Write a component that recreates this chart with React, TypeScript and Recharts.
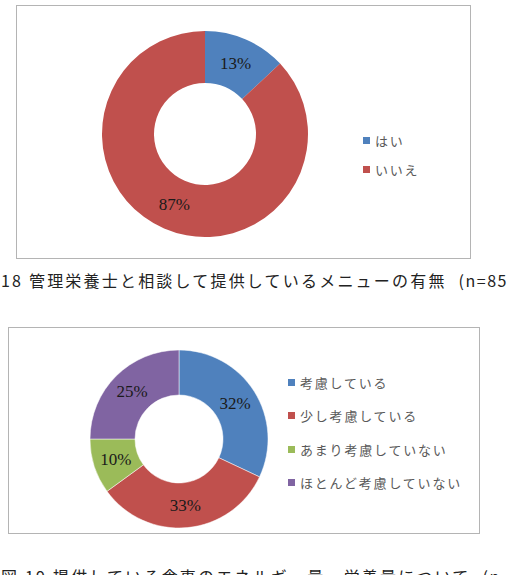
import { PieChart, Pie, Cell, Legend } from "recharts"

const answerLabels = ["はい", "いいえ"]
const answerShares = [13, 87]

const considerLabels = ["考慮している", "少し考慮している", "あまり考慮していない", "ほとんど考慮していない"]
const considerShares = [32, 33, 10, 25]

const sliceColors = ["#4F81BD", "#C0504D", "#9BBB59", "#8064A2"]

const caption1 = "18  管理栄養士と相談して提供しているメニューの有無"
const caption2 = "図 19  提供している食事のエネルギー量・栄養量について"
const nNote = "(n=85)"

const answerData = answerLabels.map((name, i) => ({ name, value: answerShares[i] }))
const considerData = considerLabels.map((name, i) => ({ name, value: considerShares[i] }))

const RAD = Math.PI / 180

function renderLabel(props: any) {
  const { cx, cy, midAngle, innerRadius, outerRadius, value } = props
  const r = (innerRadius + outerRadius) / 2
  const x = cx + r * Math.cos(-midAngle * RAD)
  const y = cy + r * Math.sin(-midAngle * RAD)
  return (
    <text x={x} y={y} textAnchor="middle" dominantBaseline="central" fill="#1a1a1a"
      fontFamily="'Liberation Serif', 'DejaVu Serif', serif" fontSize={17}>
      {`${value}%`}
    </text>
  )
}

// legend rows follow the data order, not recharts' sorted payload
function legendContent(names: string[], rowHeight: number) {
  return () => (
    <div>
      {names.map((name, i) => (
        <div key={name} style={{ height: rowHeight, display: "flex", alignItems: "center" }}>
          <span style={{ width: 7, height: 7, background: sliceColors[i], marginRight: 5, display: "inline-block" }} />
          <span style={{ fontSize: 13, letterSpacing: 1.8, color: "#595959", fontFamily: "'Noto Sans CJK JP', sans-serif" }}>{name}</span>
        </div>
      ))}
    </div>
  )
}

const boxStyle = { position: "absolute" as const, border: "1px solid #b4b4b4", background: "#fff" }
const captionStyle = {
  position: "absolute" as const, left: 1, whiteSpace: "nowrap" as const, fontSize: 16,
  letterSpacing: 2.2, color: "#222", fontFamily: "'Noto Sans CJK JP', sans-serif",
}

export default function App() {
  return (
    <div style={{ position: "absolute", left: 0, top: 0, width: 507, height: 575, overflow: "hidden", background: "#fff" }}>
      <div style={{ ...boxStyle, left: 16, top: 5, width: 453, height: 252 }}>
        <PieChart width={453} height={252}>
          <Pie data={answerData} dataKey="value" nameKey="name" cx={183} cy={123}
            innerRadius={51} outerRadius={103} startAngle={90} endAngle={-270}
            stroke="none" label={renderLabel} labelLine={false} isAnimationActive={false}>
            {answerData.map((d, i) => <Cell key={d.name} fill={sliceColors[i]} />)}
          </Pie>
          <Legend layout="vertical" content={legendContent(answerLabels, 29)}
            wrapperStyle={{ left: 346, top: 120, width: 100, bottom: "auto", right: "auto" }} />
        </PieChart>
      </div>
      <div style={{ ...captionStyle, top: 268 }}>
        {caption1}<span style={{ marginLeft: 12, letterSpacing: 1.5, fontSize: 16 }}>{nNote}</span>
      </div>

      <div style={{ ...boxStyle, left: 8, top: 327, width: 470, height: 205 }}>
        <PieChart width={470} height={205}>
          <Pie data={considerData} dataKey="value" nameKey="name" cx={165} cy={106}
            innerRadius={44} outerRadius={89} startAngle={90} endAngle={-270}
            stroke="#fff" strokeWidth={0.5} label={renderLabel} labelLine={false} isAnimationActive={false}>
            {considerData.map((d, i) => <Cell key={d.name} fill={sliceColors[i]} />)}
          </Pie>
          <Legend layout="vertical" content={legendContent(considerLabels, 33.3)}
            wrapperStyle={{ left: 279, top: 38, width: 190, bottom: "auto", right: "auto" }} />
        </PieChart>
      </div>
      <div style={{ ...captionStyle, top: 564 }}>
        {caption2}<span style={{ marginLeft: 12, letterSpacing: 1.5, fontSize: 16 }}>{nNote}</span>
      </div>
    </div>
  )
}
